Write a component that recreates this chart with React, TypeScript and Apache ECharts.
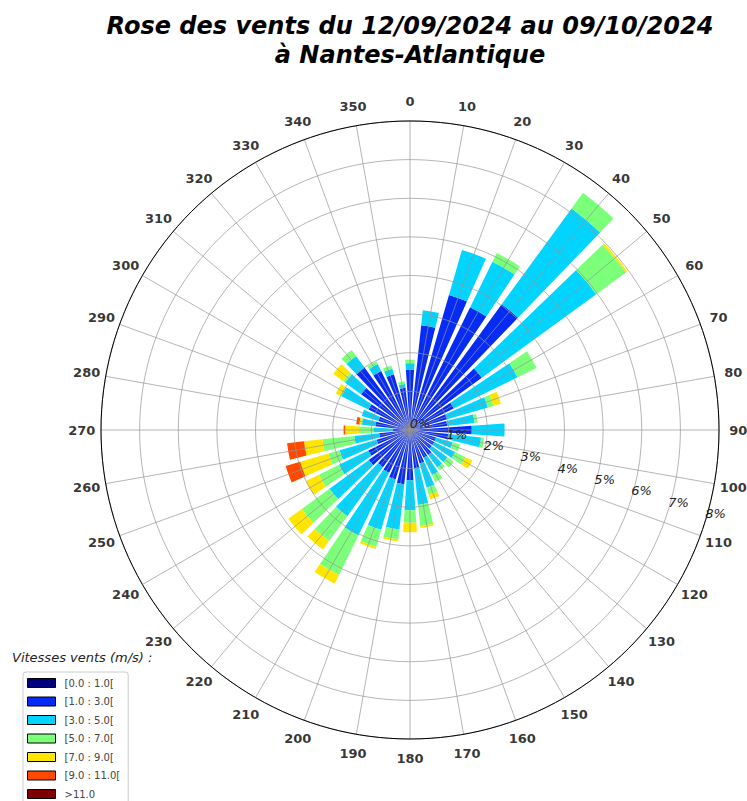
import React, { useEffect, useRef } from "react";
import * as echarts from "echarts";

// Wind directions (degrees, clockwise from North)
const directions = [0, 10, 20, 30, 40, 50, 60, 70, 80, 90, 100, 110, 120, 130, 140, 150, 160, 170,
  180, 190, 200, 210, 220, 230, 240, 250, 260, 270, 280, 290, 300, 310, 320, 330, 340, 350];

// Radial tick values (percent of observations)
const radiusTicks = [0, 1, 2, 3, 4, 5, 6, 7, 8];

// Speed classes (m/s)
const speedClasses = ["[0.0 : 1.0[", "[1.0 : 3.0[", "[3.0 : 5.0[", "[5.0 : 7.0[", "[7.0 : 9.0[", "[9.0 : 11.0[", ">11.0"];
const classColors = ["#00007f", "#062bf5", "#00d4ff", "#7cff79", "#ffe600", "#ff4800", "#7f0000"];

// Frequency (%) per direction for each speed class
const speed0to1 = [0.12, 0.12, 0.12, 0.12, 0.12, 0.12, 0.12, 0.12, 0.12, 0.12, 0.12, 0.12, 0.12, 0.12, 0.12, 0.12, 0.12, 0.12,
  0.12, 0.12, 0.12, 0.12, 0.12, 0.12, 0.12, 0.12, 0.12, 0.12, 0.12, 0.12, 0.12, 0.12, 0.12, 0.12, 0.12, 0.12];
const speed1to3 = [1.44, 2.61, 3.52, 3.42, 3.91, 2.18, 1.14, 0.88, 0.85, 1.48, 0.88, 0.58, 0.58, 0.58, 0.68, 0.68, 0.78, 0.88,
  1.18, 1.29, 1.21, 1.11, 1.07, 1.2, 1.08, 0.78, 0.68, 0.33, 0.78, 0.73, 1.08, 1.45, 1.88, 1.58, 1.38, 0.98];
const speed3to5 = [0.17, 0.39, 1.21, 1.31, 3.07, 3.67, 1.84, 1.1, 0.71, 0.85, 0.85, 0.45, 0.6, 0.5, 0.4, 0.5, 0.65, 0.95,
  0.78, 1.18, 1.36, 1.81, 1.57, 1.26, 0.85, 1.0, 0.65, 0.5, 0.35, 0.45, 0.78, 0.51, 0.37, 0.2, 0.15, 0.1];
const speed5to7 = [0.09, 0, 0, 0.25, 0.5, 0.95, 0.55, 0.15, 0.08, 0, 0.08, 0.2, 0.3, 0.2, 0.1, 0.2, 0.2, 0.55,
  0.32, 0.26, 0.46, 1.14, 0.8, 0.89, 0.58, 0.3, 0.83, 0.37, 0.03, 0, 0.02, 0.07, 0.19, 0.08, 0.09, 0.07];
const speed7to9 = [0, 0, 0, 0, 0, 0.05, 0, 0.2, 0, 0, 0, 0, 0.2, 0, 0, 0, 0.12, 0.05,
  0.25, 0.05, 0.06, 0.25, 0.27, 0.43, 0.37, 0.76, 0.48, 0.36, 0.04, 0, 0.14, 0.31, 0, 0, 0, 0];
const speed9to11 = [0, 0, 0, 0, 0, 0, 0, 0, 0, 0, 0, 0, 0, 0, 0, 0, 0, 0,
  0, 0, 0, 0, 0, 0, 0, 0.39, 0.44, 0.04, 0.08, 0, 0, 0, 0, 0, 0, 0];
const speedOver11 = [0, 0, 0, 0, 0, 0, 0, 0, 0, 0, 0, 0, 0, 0, 0, 0, 0, 0,
  0, 0, 0, 0, 0, 0, 0, 0, 0, 0, 0, 0, 0, 0, 0, 0, 0, 0];

const classValues = [speed0to1, speed1to3, speed3to5, speed5to7, speed7to9, speed9to11, speedOver11];

const gridColor = "rgba(150,150,150,0.7)";
const directionLabelRadius = 8.5; // in radius-axis units, just outside the 8% circle

export default function App() {
  const ref = useRef<HTMLDivElement>(null);

  useEffect(() => {
    if (!ref.current) return;
    const chart = echarts.init(ref.current, null, { renderer: "svg" });

    const barSeries = speedClasses.map((name, k) => ({
      name,
      type: "bar",
      coordinateSystem: "polar",
      polarIndex: 0,
      stack: "wind",
      barCategoryGap: "22%",
      itemStyle: { color: classColors[k] },
      emphasis: { disabled: true },
      data: directions.map((d, i) => [classValues[k][i], d]),
    }));

    const directionLabels = {
      name: "directions",
      type: "scatter",
      coordinateSystem: "polar",
      polarIndex: 0,
      clip: false,
      symbolSize: 0,
      silent: true,
      z: 6,
      label: {
        show: true,
        position: "inside",
        formatter: (p: any) => String(p.value[1]),
        fontFamily: "DejaVu Sans",
        fontWeight: "bold",
        fontSize: 13,
        color: "#000",
        textBorderWidth: 0,
        align: "center",
        verticalAlign: "middle",
      },
      data: directions.map((d) => [directionLabelRadius, d]),
    };

    const option = {
      animation: false,
      backgroundColor: "#ffffff",
      graphic: [
        {
          type: "text",
          x: 410,
          y: 26,
          style: {
            text: "Rose des vents du 12/09/2024 au 09/10/2024",
            fontFamily: "DejaVu Sans",
            fontSize: 24,
            fontWeight: "bold",
            fontStyle: "italic",
            fill: "#000",
            align: "center",
            verticalAlign: "middle",
          },
        },
        {
          type: "text",
          x: 410,
          y: 55,
          style: {
            text: "à Nantes-Atlantique",
            fontFamily: "DejaVu Sans",
            fontSize: 24,
            fontWeight: "bold",
            fontStyle: "italic",
            fill: "#000",
            align: "center",
            verticalAlign: "middle",
          },
        },
        {
          type: "text",
          x: 12,
          y: 657,
          style: {
            text: "Vitesses vents (m/s) :",
            fontFamily: "DejaVu Sans",
            fontSize: 13,
            fontStyle: "italic",
            fill: "#222",
            align: "left",
            verticalAlign: "middle",
          },
        },
      ],
      polar: [
        { center: [410, 430], radius: 309 },
        { center: [420, 423], radius: 309 },
      ],
      angleAxis: [
        {
          polarIndex: 0,
          type: "value",
          min: 0,
          max: 360,
          interval: 10,
          startAngle: 90,
          clockwise: true,
          z: 3,
          axisLine: { show: true, lineStyle: { color: "#000", width: 1 } },
          axisTick: { show: false },
          axisLabel: { show: false },
          splitLine: { show: true, lineStyle: { color: gridColor, width: 1 } },
        },
        {
          polarIndex: 1,
          type: "value",
          min: 0,
          max: 360,
          startAngle: -17,
          show: false,
        },
      ],
      radiusAxis: [
        {
          polarIndex: 0,
          type: "value",
          min: radiusTicks[0],
          max: radiusTicks[radiusTicks.length - 1],
          interval: 1,
          z: 3,
          axisLine: { show: false },
          axisTick: { show: false },
          axisLabel: { show: false },
          splitLine: { show: true, lineStyle: { color: gridColor, width: 1 } },
        },
        {
          polarIndex: 1,
          type: "value",
          min: radiusTicks[0],
          max: radiusTicks[radiusTicks.length - 1],
          interval: 1,
          z: 5,
          axisLine: { show: false },
          axisTick: { show: false },
          splitLine: { show: false },
          axisLabel: {
            show: true,
            margin: 0,
            formatter: "{value}%",
            fontFamily: "DejaVu Sans",
            fontStyle: "italic",
            fontSize: 13,
            color: "#222",
            align: "center",
            verticalAlign: "middle",
          },
        },
      ],
      legend: {
        orient: "vertical",
        left: 23,
        top: 672,
        height: 220,
        data: speedClasses,
        icon: "rect",
        itemWidth: 28,
        itemHeight: 9,
        itemGap: 8.5,
        padding: [6, 8, 6, 4],
        borderColor: "#cccccc",
        borderWidth: 1,
        borderRadius: 3,
        backgroundColor: "#ffffff",
        selectedMode: false,
        itemStyle: { borderColor: "#000", borderWidth: 1 },
        textStyle: { fontFamily: "DejaVu Sans", fontSize: 10, color: "#444", padding: [0, 0, 0, 4] },
      },
      series: [...barSeries, directionLabels],
    };

    chart.setOption(option as any);
    return () => chart.dispose();
  }, []);

  return (
    <div
      ref={ref}
      style={{ position: "absolute", left: 0, top: 0, width: 747, height: 801, background: "#fff" }}
    />
  );
}
